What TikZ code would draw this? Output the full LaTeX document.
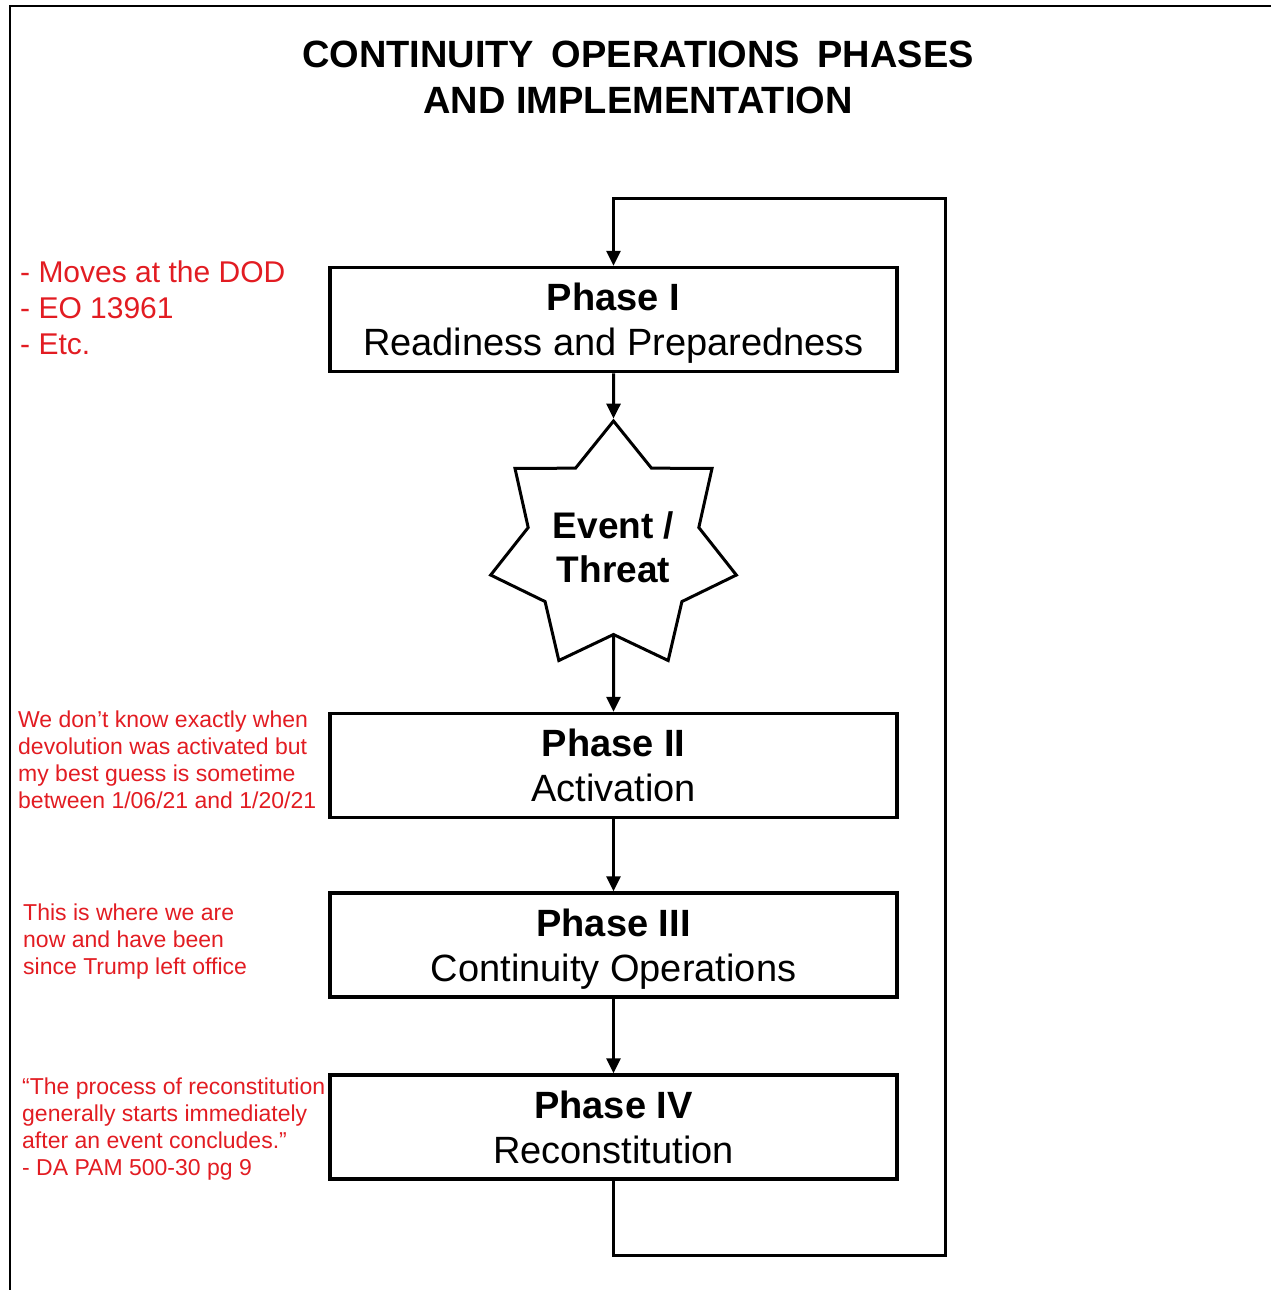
\documentclass[tikz,border=0pt]{standalone}
\usepackage{fontspec}
\setmainfont{Liberation Sans}
\usetikzlibrary{arrows.meta,positioning,shapes.geometric}
\tikzset{>/.tip={Triangle[length=15pt,width=14pt]}}
\definecolor{notered}{RGB}{226,28,34}
\newcommand\fsz[2]{\fontsize{#1}{#2}\selectfont}

\begin{document}
\begin{tikzpicture}[x=1pt,y=-1pt,on grid,
    phase/.style={draw,line width=3.5pt,minimum width=567pt,minimum height=104pt,
      inner sep=0pt,text depth=0pt,align=center,font=\fsz{38}{45}},
    burst/.style={draw,line width=3pt,star,star points=7,star point ratio=1.44,
      minimum size=252pt,inner sep=0pt,align=center,font=\fsz{37}{44}\bfseries},
    note/.style={anchor=north west,inner sep=0pt,align=left,text=notered},
    flow/.style={->,line width=3pt}]
        \useasboundingbox (0,0) rectangle (1271,1290);
        \draw[line width=2.5pt] (10,1290) -- (10,6) -- (1271,6);
        \node(title) at (638,77) [align=center,inner sep=0pt,font=\fsz{38}{46}\bfseries]
          {CONTINUITY\hspace{.46em}OPERATIONS\hspace{.46em}PHASES\\AND IMPLEMENTATION};
        % the four phases and the event
        \node(p1)[phase] at (613.5,319.5){\textbf{Phase I}\\Readiness and Preparedness};
        \node(ev)[burst,below=227.5pt of p1]{Event /\\Threat};
        \node(p2)[phase,below=218.5pt of ev]{\textbf{Phase II}\\Activation};
        \node(p3)[phase,below=179.5pt of p2]{\textbf{Phase III}\\Continuity Operations};
        \node(p4)[phase,below=182pt of p3]{\textbf{Phase IV}\\Reconstitution};
        \coordinate(retlow) at (945,1255);
        \coordinate(rettop) at (945,198);
        \draw[flow] (p1) -- (ev.north);
        \draw[flow] (ev.south) -- (p2);
        \draw[flow] (p2) -- (p3);
        \draw[flow] (p3) -- (p4);
        \draw[flow] (p4.south) |- (retlow) -- (rettop) -| (p1.north);
        % red notes
        \node(n1)[note,font=\fsz{30}{36}] at (20,261)
          {- Moves at the DOD\\- EO 13961\\- Etc.};
        \node(n2)[note,font=\fsz{23}{27}] at (18,711)
          {We don’t know exactly when\\devolution was activated but\\my best guess is sometime\\between 1/06/21 and 1/20/21};
        \node(n3)[note,font=\fsz{23}{27}] at (23,904)
          {This is where we are\\now and have been\\since Trump left office};
        \node(n4)[note,font=\fsz{23}{27}] at (22,1078)
          {“The process of reconstitution\\generally starts immediately\\after an event concludes.”\\- DA PAM 500-30 pg 9};
\end{tikzpicture}
\end{document}
